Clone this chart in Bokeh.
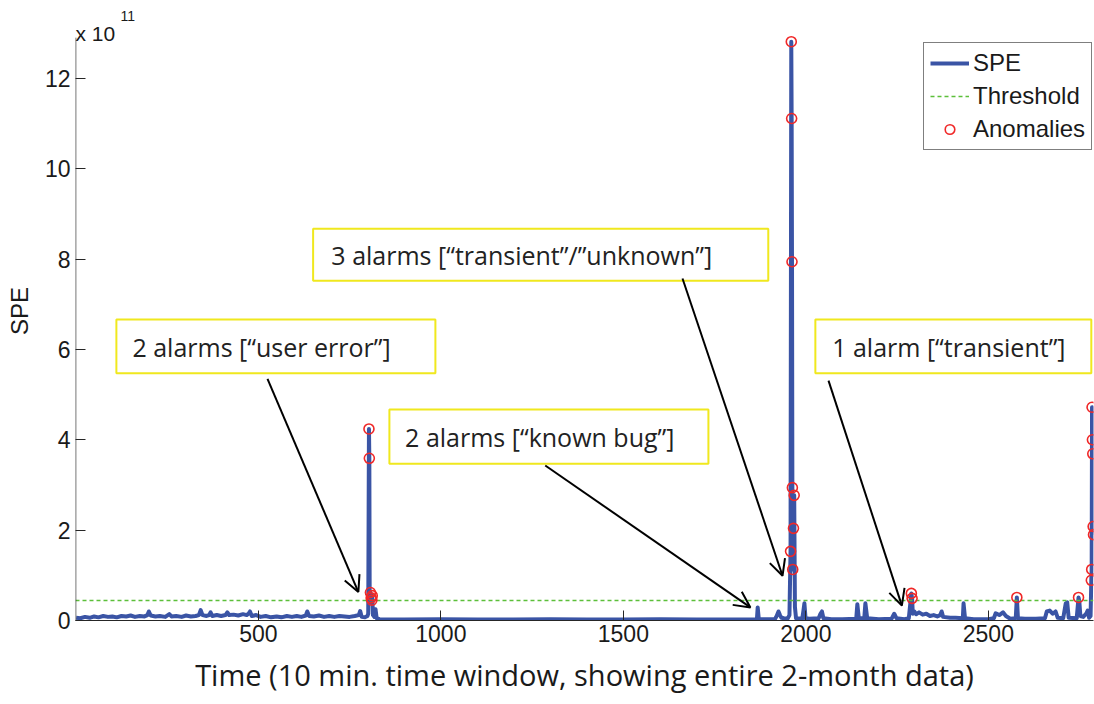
from bokeh.plotting import figure
from bokeh.models import (ColumnDataSource, FixedTicker, Arrow, OpenHead,
                          Legend, LegendItem, Range1d)
from bokeh.embed import file_html
from bokeh.resources import INLINE
from bokeh.core.properties import value

# ---------------- data (SPE in units of 1e11) ----------------
TIME = [1, 12, 25, 38, 50, 62, 75, 88, 100, 112, 125, 138, 150, 162, 175, 188, 196, 200, 205,
        218, 230, 245, 256, 262, 275, 290, 302, 315, 328, 337, 342, 347, 358, 365, 369, 374,
        386, 398, 410, 415, 420, 432, 445, 458, 468, 473, 477, 482, 494, 506, 520, 535, 550,
        563, 578, 592, 605, 618, 630, 634, 639, 652, 666, 680, 694, 708, 722, 736, 750, 764,
        775, 779, 783, 792, 799,
        801, 803, 804, 805, 807, 809, 811, 812, 814, 818, 821, 824, 832,
        900, 1000, 1100, 1200, 1300, 1400, 1500, 1600, 1700, 1800, 1864,
        1866, 1868, 1871, 1915, 1920, 1925, 1929, 1933, 1940, 1950, 1955,
        1958, 1960, 1961, 1962, 1963, 1964, 1966, 1968, 1970, 1973,
        1990, 1993, 1996, 1999, 2010, 2035, 2040, 2044, 2048, 2070, 2100, 2138, 2141, 2145,
        2160, 2163, 2168, 2200, 2235, 2242, 2248, 2270, 2282,
        2289, 2291, 2293, 2297, 2302, 2310, 2320, 2330, 2340, 2350, 2360, 2368, 2372, 2376,
        2395, 2410, 2430, 2432, 2436, 2460, 2500, 2515, 2520, 2530, 2540, 2548, 2560,
        2575, 2578, 2581, 2600, 2630, 2655, 2660, 2668, 2676, 2684, 2690, 2705, 2712, 2716,
        2720, 2742, 2747, 2749, 2752, 2760, 2768, 2772, 2776, 2780,
        2782, 2783, 2784, 2785, 2786, 2787, 2788]
SPE = [0.06, 0.05, 0.08, 0.06, 0.09, 0.07, 0.10, 0.08, 0.09, 0.07, 0.10, 0.09, 0.11, 0.08, 0.10, 0.09, 0.12, 0.20, 0.11,
       0.09, 0.10, 0.08, 0.14, 0.09, 0.10, 0.08, 0.11, 0.09, 0.10, 0.12, 0.23, 0.12, 0.10, 0.12, 0.18, 0.10,
       0.12, 0.10, 0.12, 0.18, 0.12, 0.13, 0.11, 0.14, 0.12, 0.15, 0.20, 0.10, 0.12, 0.08, 0.10, 0.07, 0.09,
       0.07, 0.10, 0.08, 0.10, 0.08, 0.11, 0.20, 0.10, 0.09, 0.11, 0.08, 0.10, 0.08, 0.10, 0.09, 0.08, 0.10,
       0.12, 0.21, 0.08, 0.07, 0.10,
       0.15, 4.24, 3.59, 0.40, 0.62, 0.50, 0.45, 0.55, 0.12, 0.08, 0.25, 0.05, 0.03,
       0.02, 0.03, 0.02, 0.02, 0.03, 0.02, 0.02, 0.03, 0.02, 0.02, 0.02,
       0.04, 0.29, 0.03, 0.03, 0.10, 0.20, 0.12, 0.06, 0.05, 0.04, 0.12,
       1.53, 12.81, 11.11, 7.94, 2.94, 1.13, 2.04, 2.77, 0.30, 0.05,
       0.04, 0.20, 0.38, 0.05, 0.04, 0.05, 0.15, 0.20, 0.05, 0.03, 0.03, 0.04, 0.36, 0.05,
       0.05, 0.38, 0.05, 0.03, 0.04, 0.15, 0.05, 0.03, 0.05,
       0.60, 0.49, 0.15, 0.20, 0.14, 0.18, 0.13, 0.15, 0.10, 0.12, 0.09, 0.12, 0.20, 0.08,
       0.06, 0.06, 0.05, 0.38, 0.05, 0.03, 0.03, 0.05, 0.16, 0.12, 0.18, 0.10, 0.04,
       0.05, 0.51, 0.05, 0.04, 0.04, 0.05, 0.20, 0.22, 0.15, 0.20, 0.06, 0.05, 0.38, 0.40,
       0.06, 0.05, 0.51, 0.44, 0.10, 0.08, 0.15, 0.22, 0.06, 0.10,
       0.89, 1.13, 4.72, 4.00, 3.69, 2.08, 1.90]
THRESHOLD = 0.44
X_TICKS = [500, 1000, 1500, 2000, 2500]
Y_TICKS = [0, 2, 4, 6, 8, 10, 12]
Y_AXIS_TOP = 12.9
EXPONENT = "11"

# anomalies: SPE samples above the threshold
ANOM_T = [t for t, v in zip(TIME, SPE) if v > THRESHOLD]
ANOM_V = [v for v in SPE if v > THRESHOLD]

# annotations: text, box (left, right, bottom, top), text anchor, arrow (x0, y0, x1, y1)
NOTES = [
    ("2 alarms [\u201cuser error\u201d]", (111, 985, 5.47, 6.66), (155, 6.06), (525, 5.35, 774, 0.63)),
    ("2 alarms [\u201cknown bug\u201d]", (859, 1733, 3.47, 4.67), (902, 4.07), (1286, 3.43, 1848, 0.29)),
    ("3 alarms [\u201ctransient\u201d/\u201dunknown\u201d]", (650, 1897, 7.52, 8.67), (700, 8.08), (1662, 7.57, 1936, 0.99)),
    ("1 alarm [\u201ctransient\u201d]", (2026, 2782, 5.47, 6.66), (2072, 6.06), (2062, 5.31, 2263, 0.33)),
]

BLUE = "#3A54A5"
GREEN = "#5CBF3A"
RED = "#F02828"
YELLOW = "#F0E81E"
AX = "#262626"
TXT = "#1a1a1a"

X0, X1 = -1, 2788
p = figure(width=1094, height=700, output_backend="svg", toolbar_location=None,
           x_range=Range1d(X0, X1), y_range=Range1d(0, 13.7),
           min_border_left=75, min_border_right=1, min_border_top=1, min_border_bottom=80)
p.outline_line_color = None
p.grid.visible = False
p.background_fill_color = "white"
p.border_fill_color = "white"

src = ColumnDataSource(dict(t=TIME, v=SPE))
r_spe = p.line("t", "v", source=src, line_color=BLUE, line_width=4, line_join="round")
r_thr = p.line([X0, X1], [THRESHOLD, THRESHOLD], line_color=GREEN,
               line_width=1.5, line_dash="4 3")
r_an = p.scatter(ANOM_T, ANOM_V, marker="circle", size=10, fill_color=None,
                 line_color=RED, line_width=1.6)

# y axis line (only up to the top of the axes box)
p.segment(x0=[X0 + 0.7], y0=[0], x1=[X0 + 0.7], y1=[Y_AXIS_TOP], line_color=AX, line_width=1)

for txt, (l, r, b, t), (tx, ty), (x0, y0, x1, y1) in NOTES:
    p.quad(left=[l], right=[r], bottom=[b], top=[t], fill_color="white",
           line_color=YELLOW, line_width=2)
    p.text(x=[tx], y=[ty], text=[txt], text_font=value("Open Sans"), text_font_size="25px",
           text_color="#222222", text_baseline="middle", text_align="left")
    p.add_layout(Arrow(end=OpenHead(size=16, line_width=2, line_color="black"),
                       x_start=x0, y_start=y0, x_end=x1, y_end=y1,
                       line_width=2, line_color="black"))

# exponent
p.text(x=[X0], y=[12.99], text=["x 10"], text_font=value("Liberation Sans"),
       text_font_size="21px", text_color=TXT, text_baseline="alphabetic", text_align="left")
p.text(x=[122], y=[13.39], text=[EXPONENT], text_font=value("Liberation Sans"),
       text_font_size="14px", text_color=TXT, text_baseline="alphabetic", text_align="left")

# axes
for ax in (p.xaxis[0], p.yaxis[0]):
    ax.major_tick_line_color = AX
    ax.major_tick_in = 10
    ax.major_tick_out = 0
    ax.minor_tick_line_color = None
    ax.major_label_text_font = "Liberation Sans"
    ax.major_label_text_font_size = "23px"
    ax.major_label_text_color = TXT
p.xaxis.axis_line_color = AX
p.yaxis.axis_line_color = None
p.xaxis.ticker = FixedTicker(ticks=X_TICKS)
p.yaxis.ticker = FixedTicker(ticks=Y_TICKS)
p.xaxis.major_label_standoff = 4
p.yaxis.major_label_standoff = 5
p.xaxis.axis_label = "Time (10 min. time window, showing entire 2-month data)"
p.xaxis.axis_label_text_font = "Open Sans"
p.xaxis.axis_label_text_font_style = "normal"
p.xaxis.axis_label_text_font_size = "29px"
p.xaxis.axis_label_text_color = TXT
p.xaxis.axis_label_standoff = 10
p.yaxis.axis_label = "SPE"
p.yaxis.axis_label_text_font = "Liberation Sans"
p.yaxis.axis_label_text_font_style = "normal"
p.yaxis.axis_label_text_font_size = "24px"
p.yaxis.axis_label_text_color = TXT
p.yaxis.axis_label_standoff = 9

legend = Legend(items=[LegendItem(label="SPE", renderers=[r_spe]),
                       LegendItem(label="Threshold", renderers=[r_thr]),
                       LegendItem(label="Anomalies", renderers=[r_an])],
                location=(848, 470), margin=0, padding=6, spacing=5,
                glyph_width=39, glyph_height=24, label_height=24, label_standoff=4,
                label_text_font="Liberation Sans", label_text_font_size="24px",
                label_text_color=TXT, border_line_color="black",
                border_line_width=1, background_fill_alpha=1.0)
p.add_layout(legend)

open("out.html", "w").write(file_html(p, INLINE))
